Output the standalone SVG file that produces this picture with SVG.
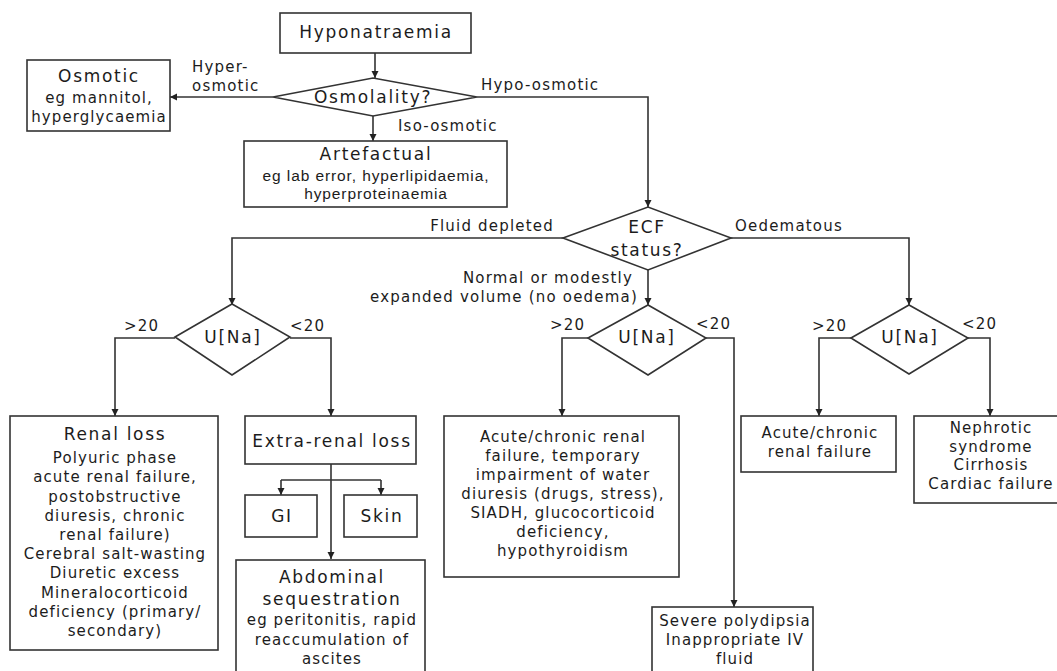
<svg xmlns="http://www.w3.org/2000/svg" width="1057" height="671" viewBox="0 0 1057 671">
<defs>
<marker id="ah" markerWidth="8" markerHeight="8" refX="7" refY="4" orient="auto" markerUnits="userSpaceOnUse">
<path d="M0,0.5 L7,4 L0,7.5 Z" fill="#222"/>
</marker>
<style>
.box{fill:#fff;stroke:#333;stroke-width:1.6}
.ln{fill:none;stroke:#333;stroke-width:1.6;marker-end:url(#ah)}
.pl{fill:none;stroke:#333;stroke-width:1.6}
text{font-family:"DejaVu Sans","Verdana",sans-serif;fill:#1c1c1c;text-anchor:middle}
.t{font-size:17px;letter-spacing:1.7px}
.s{font-size:15px;letter-spacing:1.1px}
.l{font-size:15px;letter-spacing:1.2px}
.a{font-family:"Liberation Sans",Arial,sans-serif;font-size:15.5px;letter-spacing:0.9px}
.st{text-anchor:start}
.en{text-anchor:end}
</style>
</defs>
<rect width="1057" height="671" fill="#fff"/>
<g id="connectors">
<path class="ln" d="M375,53 V78"/>
<path class="ln" d="M273,97 H170"/>
<path class="ln" d="M373,116 V141"/>
<path class="ln" d="M477,97 H648 V207"/>
<path class="ln" d="M563,238 H232 V305"/>
<path class="ln" d="M731,238 H909 V305"/>
<path class="ln" d="M648,270 V305"/>
<path class="ln" d="M175,338 H115 V416"/>
<path class="ln" d="M290,338 H331 V416"/>
<path class="ln" d="M331,464 V559"/>
<path class="pl" d="M281,480 H381"/>
<path class="ln" d="M281,480 V495"/>
<path class="ln" d="M381,480 V495"/>
<path class="ln" d="M588,338 H562 V416"/>
<path class="ln" d="M706,338 H734 V607"/>
<path class="ln" d="M851,338 H819 V416"/>
<path class="ln" d="M968,338 H990 V416"/>
<text class="l st" x="192" y="72">Hyper-</text>
<text class="l st" x="192" y="91">osmotic</text>
<text class="l st" x="481" y="90">Hypo-osmotic</text>
<text class="l st" x="398" y="131">Iso-osmotic</text>
<text class="l en" x="554" y="231">Fluid depleted</text>
<text class="l st" x="735" y="231">Oedematous</text>
<text class="l en" x="633" y="283">Normal or modestly</text>
<text class="l en" x="638" y="302">expanded volume (no oedema)</text>
<text class="l st" x="124" y="331">&gt;20</text>
<text class="l st" x="290" y="331">&lt;20</text>
<text class="l st" x="550" y="330">&gt;20</text>
<text class="l st" x="696" y="329">&lt;20</text>
<text class="l st" x="812" y="331">&gt;20</text>
<text class="l st" x="962" y="329">&lt;20</text>
</g>
<g id="hyponatraemia">
<rect class="box" x="280" y="13" width="191" height="40"/>
<text class="t" x="376" y="38">Hyponatraemia</text>
</g>
<g id="osmolality">
<polygon class="box" points="273,97 373,78 477,97 373,116"/>
<text class="t" x="373" y="103">Osmolality?</text>
</g>
<g id="osmotic">
<rect class="box" x="27" y="60" width="143" height="71"/>
<text class="t" x="99" y="82">Osmotic</text>
<text class="s" x="99" y="103">eg mannitol,</text>
<text class="s" x="99" y="122">hyperglycaemia</text>
</g>
<g id="artefactual">
<rect class="box" x="244" y="141" width="263" height="66"/>
<text class="t" x="376" y="160">Artefactual</text>
<text class="a" x="376" y="181">eg lab error, hyperlipidaemia,</text>
<text class="a" x="376" y="199">hyperproteinaemia</text>
</g>
<g id="ecf">
<polygon class="box" points="563,238 648,207 731,238 648,270"/>
<text class="t" x="647" y="233">ECF</text>
<text class="t" x="647" y="256">status?</text>
</g>
<g id="una-left">
<polygon class="box" points="175,337 232,304 290,337 232,375"/>
<text class="t" x="233" y="343">U[Na]</text>
</g>
<g id="una-mid">
<polygon class="box" points="588,338 648,305 706,338 648,375"/>
<text class="t" x="647" y="343">U[Na]</text>
</g>
<g id="una-right">
<polygon class="box" points="851,338 909,305 968,338 909,374"/>
<text class="t" x="910" y="343">U[Na]</text>
</g>
<g id="renal-loss">
<rect class="box" x="10" y="416" width="208" height="234"/>
<text class="t" x="115" y="440">Renal loss</text>
<text class="s" x="115" y="463">Polyuric phase</text>
<text class="s" x="115" y="482">acute renal failure,</text>
<text class="s" x="115" y="502">postobstructive</text>
<text class="s" x="115" y="521">diuresis, chronic</text>
<text class="s" x="115" y="540">renal failure)</text>
<text class="s" x="115" y="559">Cerebral salt-wasting</text>
<text class="s" x="115" y="578">Diuretic excess</text>
<text class="s" x="115" y="598">Mineralocorticoid</text>
<text class="s" x="115" y="617">deficiency (primary/</text>
<text class="s" x="115" y="636">secondary)</text>
</g>
<g id="extra-renal">
<rect class="box" x="245" y="416" width="171" height="48"/>
<text class="t" x="332" y="447">Extra-renal loss</text>
</g>
<g id="gi">
<rect class="box" x="245" y="495" width="72" height="42"/>
<text class="t" x="282" y="522">GI</text>
</g>
<g id="skin">
<rect class="box" x="344" y="495" width="73" height="42"/>
<text class="t" x="382" y="522">Skin</text>
</g>
<g id="abdominal">
<rect class="box" x="236" y="560" width="189" height="120"/>
<text class="t" x="332" y="583">Abdominal</text>
<text class="t" x="332" y="605">sequestration</text>
<text class="s" x="332" y="625">eg peritonitis, rapid</text>
<text class="s" x="332" y="645">reaccumulation of</text>
<text class="s" x="332" y="664">ascites</text>
</g>
<g id="normal-renal">
<rect class="box" x="444" y="416" width="235" height="161"/>
<text class="s" x="563" y="442">Acute/chronic renal</text>
<text class="s" x="563" y="461">failure, temporary</text>
<text class="s" x="563" y="480">impairment of water</text>
<text class="s" x="563" y="499">diuresis (drugs, stress),</text>
<text class="s" x="563" y="518">SIADH, glucocorticoid</text>
<text class="s" x="563" y="537">deficiency,</text>
<text class="s" x="563" y="556">hypothyroidism</text>
</g>
<g id="polydipsia">
<rect class="box" x="652" y="607" width="161" height="80"/>
<text class="s" x="735" y="626">Severe polydipsia</text>
<text class="s" x="735" y="645">Inappropriate IV</text>
<text class="s" x="735" y="664">fluid</text>
</g>
<g id="oed-renal">
<rect class="box" x="741" y="416" width="155" height="56"/>
<text class="s" x="820" y="438">Acute/chronic</text>
<text class="s" x="820" y="457">renal failure</text>
</g>
<g id="nephrotic">
<rect class="box" x="914" y="416" width="160" height="87"/>
<text class="s" x="991" y="433">Nephrotic</text>
<text class="s" x="991" y="452">syndrome</text>
<text class="s" x="991" y="470">Cirrhosis</text>
<text class="s" x="991" y="489">Cardiac failure</text>
</g>
</svg>
